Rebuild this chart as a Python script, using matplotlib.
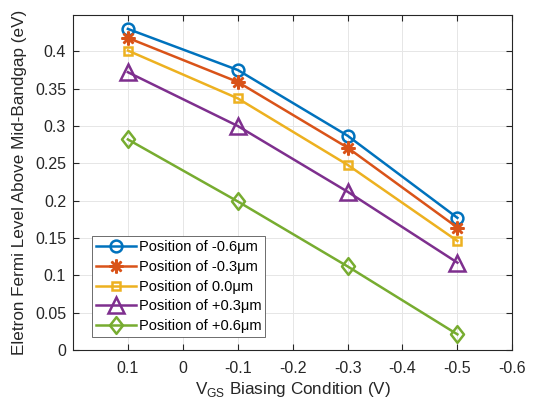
import numpy as np
import matplotlib.pyplot as plt
from matplotlib.path import Path

plt.rcParams['font.family'] = ['Liberation Sans', 'DejaVu Sans']

# gate bias points (V) and Fermi level above mid-gap (eV) at each position
vgs = [0.1, -0.1, -0.3, -0.5]
e_m06 = [0.430, 0.375, 0.287, 0.177]
e_m03 = [0.418, 0.359, 0.271, 0.164]
e_00 = [0.401, 0.337, 0.248, 0.146]
e_p03 = [0.372, 0.300, 0.212, 0.117]
e_p06 = [0.282, 0.199, 0.112, 0.021]

labels = ['Position of -0.6μm', 'Position of -0.3μm', 'Position of 0.0μm',
          'Position of +0.3μm', 'Position of +0.6μm']
xticks = [0.1, 0, -0.1, -0.2, -0.3, -0.4, -0.5, -0.6]
xtick_labels = ['0.1', '0', '-0.1', '-0.2', '-0.3', '-0.4', '-0.5', '-0.6']
yticks = [0, 0.05, 0.1, 0.15, 0.2, 0.25, 0.3, 0.35, 0.4]
ytick_labels = ['0', '0.05', '0.1', '0.15', '0.2', '0.25', '0.3', '0.35', '0.4']

colors = [(0, 0.447, 0.741), (0.85, 0.325, 0.098), (0.929, 0.694, 0.125),
          (0.494, 0.184, 0.556), (0.466, 0.674, 0.188)]
# tall diamond, a bit narrower than high
diamond = Path([(0, 1), (0.78, 0), (0, -1), (-0.78, 0), (0, 1)],
               [Path.MOVETO, Path.LINETO, Path.LINETO, Path.LINETO, Path.CLOSEPOLY])
markers = ['o', (8, 2, 0), 's', '^', diamond]
msizes = [8.5, 10, 6, 11, 12]

fig = plt.figure(figsize=(5.35, 4.07), dpi=100)
ax = fig.add_axes([0.1364, 0.140, 0.8212, 0.822])

for y, lab, c, m, ms in zip([e_m06, e_m03, e_00, e_p03, e_p06], labels, colors, markers, msizes):
    ax.plot(vgs, y, color=c, marker=m, markersize=ms, markerfacecolor='none',
            markeredgewidth=1.8, linewidth=1.8, label=lab)

ax.set_xlim(0.2, -0.6)
ax.set_ylim(0, 0.448)
ax.set_xticks(xticks)
ax.set_xticklabels(xtick_labels)
ax.set_yticks(yticks)
ax.set_yticklabels(ytick_labels)
ax.tick_params(direction='in', top=True, right=True, labelsize=11.5, colors='#262626', length=4, width=0.8)
ax.tick_params(axis='x', pad=8)
ax.tick_params(axis='y', pad=5)
ax.grid(True, color='#e6e6e6', linewidth=0.7)
ax.set_axisbelow(True)
for s in ax.spines.values():
    s.set_color('#262626')
    s.set_linewidth(0.8)

ax.set_xlabel('V$_{\\mathregular{GS}}$ Biasing Condition (V)', fontsize=12.3, color='#262626', labelpad=3)
ax.set_ylabel('Eletron Fermi Level Above Mid-Bandgap (eV)', fontsize=12.3, color='#262626', labelpad=6)

leg = ax.legend(loc='lower left', bbox_to_anchor=(0.043, 0.039), fontsize=10.5, fancybox=False,
                handlelength=2.8, handletextpad=0.15, borderpad=0.25, labelspacing=0.4,
                borderaxespad=0)
leg.get_frame().set_edgecolor('#555555')
leg.get_frame().set_linewidth(0.6)
leg.get_frame().set_alpha(1)

fig.savefig('out.png', dpi=100)
